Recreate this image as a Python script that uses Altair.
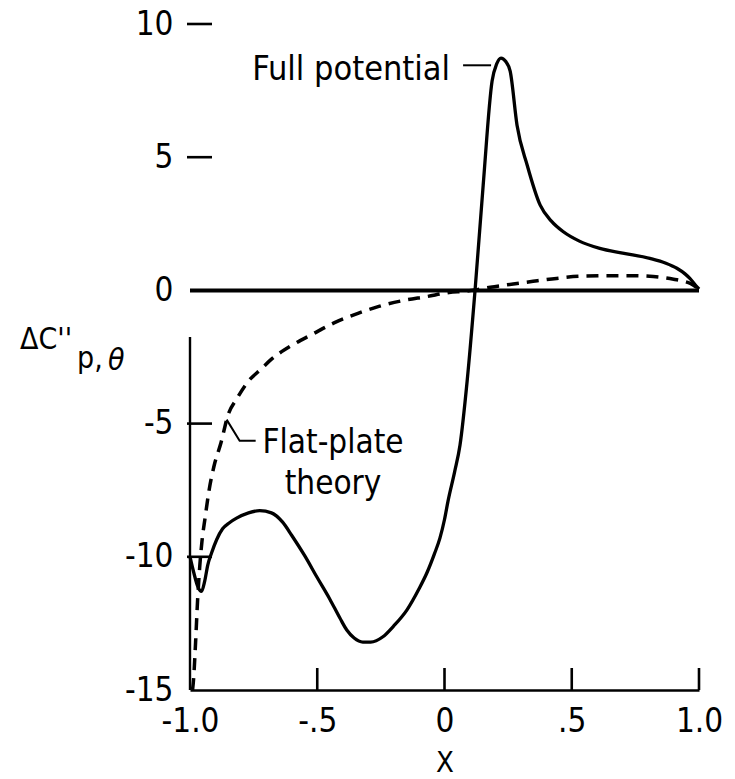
import altair as alt
import pandas as pd

FONT = "DejaVu Sans Condensed, DejaVu Sans, sans-serif"

# Full-potential solution, chordwise station x and pressure term
fp_x = [-1.0, -0.985, -0.97, -0.955, -0.942, -0.93, -0.915, -0.895, -0.872, -0.845,
        -0.817, -0.77, -0.726, -0.68, -0.636, -0.6, -0.55, -0.502, -0.45, -0.411,
        -0.384, -0.355, -0.321, -0.29, -0.242, -0.2, -0.148, -0.1, -0.069, -0.04,
        -0.018, 0.0, 0.014, 0.04, 0.061, 0.089, 0.12, 0.152, 0.187, 0.205,
        0.222, 0.24, 0.258, 0.285, 0.325, 0.376, 0.42, 0.467, 0.53, 0.61,
        0.7, 0.807, 0.87, 0.913, 0.945, 0.964, 0.99, 1.0]
fp_y = [-10.0, -10.6, -11.1, -11.3, -10.9, -10.3, -9.85, -9.35, -8.95, -8.72,
        -8.55, -8.35, -8.27, -8.35, -8.7, -9.2, -9.95, -10.75, -11.6, -12.3,
        -12.75, -13.05, -13.2, -13.2, -13.0, -12.6, -12.0, -11.2, -10.6, -9.9,
        -9.3, -8.6, -7.9, -6.8, -5.8, -3.4, 0.0, 3.95, 7.86, 8.5,
        8.72, 8.6, 8.23, 6.2, 4.7, 3.2, 2.6, 2.2, 1.85, 1.58,
        1.4, 1.2, 1.02, 0.83, 0.62, 0.45, 0.15, 0.05]

# Flat-plate theory
fl_x = [-0.99, -0.986, -0.978, -0.97, -0.962, -0.953, -0.941, -0.925, -0.906, -0.878,
        -0.851, -0.815, -0.768, -0.72, -0.682, -0.64, -0.607, -0.52, -0.434, -0.34,
        -0.258, -0.163, -0.069, 0.018, 0.08, 0.12, 0.18, 0.27, 0.348, 0.44,
        0.533, 0.64, 0.742, 0.82, 0.9, 0.94, 0.966, 0.99, 1.0]
fl_y = [-15.0, -14.6, -13.2, -11.6, -10.4, -9.42, -8.56, -7.5, -6.61, -5.71,
        -4.69, -4.05, -3.38, -2.95, -2.6, -2.3, -2.1, -1.65, -1.22, -0.86,
        -0.6, -0.38, -0.23, -0.08, -0.03, 0.02, 0.12, 0.24, 0.34, 0.45,
        0.53, 0.55, 0.55, 0.52, 0.42, 0.34, 0.26, 0.12, 0.05]

x_ticks = [-1.0, -0.5, 0.0, 0.5, 1.0]
x_tick_labels = ["-1.0", "-.5", "0", ".5", "1.0"]
y_ticks = [-15, -10, -5, 0, 5, 10]
y_tick_labels = ["-15", "-10", "-5", "0", "5", "10"]
x_inner_ticks = [-0.5, 0.0, 0.5, 1.0]
y_inner_ticks = [-10, -5, 5, 10]

x_dom = [-1.0, 1.0]
y_dom = [-15, 10]
y_axis_top = -1.75          # left axis line stops short of the zero line

# leader lines
fp_lead_x = [0.073, 0.183]
fp_lead_y = [8.45, 8.45]
fl_lead_x = [-0.856, -0.805, -0.742]
fl_lead_y = [-4.85, -5.64, -5.64]

W, H = 509, 666

xs = alt.Scale(domain=x_dom, nice=False, zero=False)
ys = alt.Scale(domain=y_dom, nice=False, zero=False)


def lookup_expr(vals, labels):
    pairs = ",".join(f"'{v:g}':'{l}'" for v, l in zip(vals, labels))
    return "{" + pairs + "}[datum.value]"


x_axis = alt.Axis(values=x_ticks, labelExpr=lookup_expr(x_ticks, x_tick_labels),
                  ticks=False, grid=False, domain=True, domainColor="black",
                  domainWidth=2.6, labelFont=FONT, labelFontSize=33,
                  labelColor="black", labelPadding=15, labelFlush=False,
                  title="X", titleFont=FONT, titleFontSize=29,
                  titleFontWeight="normal", titleColor="black", titlePadding=10)
y_axis = alt.Axis(values=y_ticks, labelExpr=lookup_expr(y_ticks, y_tick_labels),
                  ticks=False, grid=False, domain=False, labelFont=FONT,
                  labelFontSize=33, labelColor="black", labelPadding=17,
                  labelFlush=False, title=None)


def xy(xf="x:Q", yf="y:Q"):
    return dict(x=alt.X(xf, scale=xs, axis=x_axis), y=alt.Y(yf, scale=ys, axis=y_axis))


fp_df = pd.DataFrame({"x": fp_x, "y": fp_y})
fl_df = pd.DataFrame({"x": fl_x, "y": fl_y})

full_pot = alt.Chart(fp_df).mark_line(
    color="black", strokeWidth=3.3, interpolate="monotone", strokeJoin="round"
).encode(**xy())

flat = alt.Chart(fl_df).mark_line(
    color="black", strokeWidth=3.5, interpolate="monotone", strokeDash=[12, 8]
).encode(**xy())

zero_line = alt.Chart(pd.DataFrame({"x": [x_dom[0]], "x2": [x_dom[1]], "y": [0]})).mark_rule(
    color="black", strokeWidth=4
).encode(**xy(), x2="x2:Q")

left_axis = alt.Chart(pd.DataFrame({"x": [x_dom[0]], "y": [y_dom[0]], "y2": [y_axis_top]})).mark_rule(
    color="black", strokeWidth=2.4
).encode(**xy(), y2="y2:Q")

x_tick_marks = alt.Chart(pd.DataFrame({"x": x_inner_ticks})).mark_rule(
    color="black", strokeWidth=2.6
).encode(
    x=alt.X("x:Q", scale=xs, axis=x_axis),
    y=alt.value(H), y2=alt.value(H - 22),
)

y_tick_marks = alt.Chart(pd.DataFrame({"y": y_inner_ticks})).mark_rule(
    color="black", strokeWidth=2.6
).encode(
    y=alt.Y("y:Q", scale=ys, axis=y_axis),
    x=alt.value(-3), x2=alt.value(22),
)

fp_leader = alt.Chart(pd.DataFrame({"x": fp_lead_x, "y": fp_lead_y})).mark_line(
    color="black", strokeWidth=2
).encode(**xy())

fl_leader = alt.Chart(pd.DataFrame({"x": fl_lead_x, "y": fl_lead_y, "o": [0, 1, 2]})).mark_line(
    color="black", strokeWidth=2
).encode(**xy(), order="o:O")

fp_label = alt.Chart(pd.DataFrame({"x": [0.022], "y": [7.88], "t": ["Full potential"]})).mark_text(
    font=FONT, fontSize=34, align="right", baseline="alphabetic", color="black"
).encode(**xy(), text="t:N")

fl_label = alt.Chart(pd.DataFrame({"x": [-0.438], "y": [-6.12]})).mark_text(
    font=FONT, fontSize=33, align="center", baseline="alphabetic", color="black",
    lineHeight=41, text=["Flat-plate", "theory"]
).encode(**xy())

# y-axis quantity: delta C'' with subscript p, theta
ylab_main = alt.Chart(pd.DataFrame({"a": [0]})).mark_text(
    font=FONT, fontSize=30, align="left", baseline="alphabetic", color="black",
    text="ΔC''"
).encode(x=alt.value(-170), y=alt.value(325))

ylab_sub = alt.Chart(pd.DataFrame({"a": [0]})).mark_text(
    font=FONT, fontSize=30, align="left", baseline="alphabetic", color="black",
    text="p,"
).encode(x=alt.value(-113), y=alt.value(344))

ylab_theta = alt.Chart(pd.DataFrame({"a": [0]})).mark_text(
    font=FONT, fontSize=30, fontStyle="italic", align="left", baseline="alphabetic",
    color="black", text="θ"
).encode(x=alt.value(-82), y=alt.value(346))

chart = alt.layer(
    full_pot, flat, zero_line, left_axis, x_tick_marks, y_tick_marks,
    fp_leader, fl_leader, fp_label, fl_label, ylab_main, ylab_sub, ylab_theta
).properties(
    width=W, height=H,
    autosize=alt.AutoSizeParams(type="none"),
    padding={"left": 190, "top": 24, "right": 36, "bottom": 89},
    background="white",
).configure_view(stroke=None)

chart.save("out.html", embed_options={"renderer": "svg", "actions": False})
